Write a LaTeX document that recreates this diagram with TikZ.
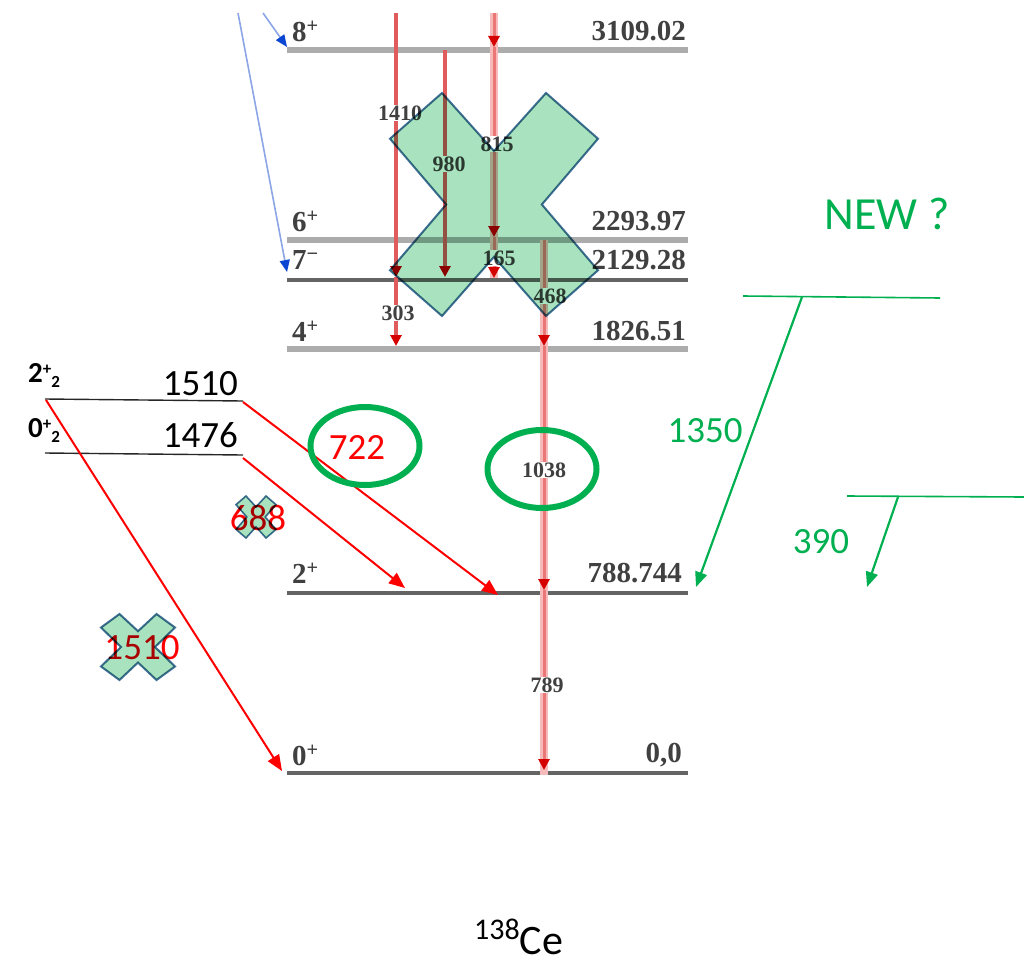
\documentclass[tikz,border=0pt]{standalone}
\usepackage{fontspec}
\setmainfont{Carlito}
\newfontfamily\serifff{Liberation Serif}
\usetikzlibrary{arrows.meta,shapes.geometric}
\definecolor{xgreen}{RGB}{0,176,80}
\definecolor{xfill}{RGB}{168,226,190}
\definecolor{xedge}{RGB}{65,113,156}
\definecolor{halocol}{RGB}{246,186,186}
\definecolor{corecol}{RGB}{234,118,118}
\definecolor{solidcol}{RGB}{224,92,92}
\definecolor{tipred}{RGB}{212,0,0}
\definecolor{lvllight}{RGB}{172,172,172}
\definecolor{lvldark}{RGB}{100,100,100}
\definecolor{bluel}{RGB}{140,165,230}
\definecolor{blued}{RGB}{10,70,210}
\begin{document}
\begin{tikzpicture}[x=1pt,y=-1pt,
  lightlvl/.style={line width=6pt, draw=lvllight},
  darklvl/.style={line width=4pt, draw=lvldark},
  lvlL/.style={anchor=west, inner sep=0pt, text=black!75, font=\serifff\bfseries\fontsize{29}{29}\selectfont},
  lvlR/.style={anchor=east, inner sep=0pt, text=black!75, font=\serifff\bfseries\fontsize{29}{29}\selectfont},
  glab/.style={fill=white, inner sep=1pt, text=black!75, font=\serifff\bfseries\fontsize{22}{22}\selectfont},
  gtip/.style={-{Triangle[length=11pt,width=11pt,color=tipred]}},
  solidg/.style={gtip, line width=3.5pt, draw=solidcol},
  haloline/.style={line width=8pt, draw=halocol},
  coreline/.style={gtip, line width=3pt, draw=corecol},
  crossst/.style={fill=xfill, draw=xedge, line width=2pt, line join=miter},
  bluearr/.style={line width=1.6pt, draw=bluel, -{Triangle[length=12pt,width=10pt,color=blued]}},
  redarr/.style={line width=2pt, draw=red, -{Triangle[length=16pt,width=13pt]}},
  greenarr/.style={line width=2.2pt, draw=xgreen, -{Triangle[length=15pt,width=12pt]}},
  greenlvl/.style={line width=1.6pt, draw=xgreen},
  blacklvl/.style={line width=1.4pt, draw=black!85},
  bigtxt/.style={inner sep=0pt, font=\fontsize{37}{37}\selectfont},
  boldlab/.style={inner sep=0pt, font=\bfseries\fontsize{29}{29}\selectfont},
  gcircle/.style={ellipse, draw=xgreen, line width=6pt, minimum width=109pt, minimum height=78pt, inner sep=0pt}
]
\useasboundingbox (0,0) rectangle (1024,966);
\newcommand{\smb}{\bfseries\fontsize{17}{17}\selectfont}

% level endpoints
\coordinate (L8a) at (287,50);  \coordinate (L8b) at (688,50);
\coordinate (L6a) at (287,240); \coordinate (L6b) at (688,240);
\coordinate (L7a) at (287,280); \coordinate (L7b) at (688,280);
\coordinate (L4a) at (287,349); \coordinate (L4b) at (688,349);
\coordinate (L2a) at (287,593); \coordinate (L2b) at (688,593);
\coordinate (L0a) at (287,773); \coordinate (L0b) at (688,773);

\draw[lightlvl] (L8a) -- (L8b);
\draw[lightlvl] (L6a) -- (L6b);
\draw[darklvl] (L7a) -- (L7b);
\draw[lightlvl] (L4a) -- (L4b);
\draw[darklvl] (L2a) -- (L2b);
\draw[darklvl] (L0a) -- (L0b);

% level labels
\node[lvlL] (l8) at (292,31) {8\textsuperscript{+}};
\node[lvlR] (e8) at (686,31) {3109.02};
\node[lvlL] (l6) at (292,221) {6\textsuperscript{+}};
\node[lvlR] (e6) at (686,221) {2293.97};
\node[lvlL] (l7) at (292,260) {7\textsuperscript{\char"2212}};
\node[lvlR] (e7) at (686,260) {2129.28};
\node[lvlL] (l4) at (292,331) {4\textsuperscript{+}};
\node[lvlR] (e4) at (686,331) {1826.51};
\node[lvlL] (l2) at (292,573) {2\textsuperscript{+}};
\node[lvlR] (e2) at (682,573) {788.744};
\node[lvlL] (l0) at (292,755) {0\textsuperscript{+}};
\node[lvlR] (e0) at (682,755) {0,0};

% gamma transitions
\coordinate (gA) at (396,13);  \coordinate (A7) at (396,277); \coordinate (A4) at (396,346);
\coordinate (gB) at (445,50);  \coordinate (B7) at (445,277);
\coordinate (gC) at (494,13);  \coordinate (C8) at (494,47);  \coordinate (C6) at (494,237); \coordinate (C7) at (494,278);
\coordinate (gD) at (544,240); \coordinate (D4) at (544,346); \coordinate (D2) at (544,590); \coordinate (D0) at (544,770);
\coordinate (Dend) at (544,775);

\draw[haloline] (gC) -- (C7);
\draw[haloline] (gD) -- (Dend);
\draw[solidg] (gA) -- (A7);
\draw[solidg] (A7) -- (A4);
\draw[solidg] (gB) -- (B7);
\draw[coreline] (gC) -- (C8);
\draw[coreline] (C8) -- (C6);
\draw[coreline] (C6) -- (C7);
\draw[coreline] (gD) -- (D4);
\draw[coreline] (D4) -- (D2);
\draw[coreline] (D2) -- (D0);

\node[glab] (g1410) at (400,113) {1410};
\node[glab] (g980) at (449,164) {980};
\node[glab] (g815) at (497,144) {815};
\node[glab] (g165) at (499,258) {165};
\node[glab] (g468) at (550,296) {468};
\node[glab] (g303) at (398,313) {303};
\node[glab] (g1038) at (544,470) {1038};
\node[glab] (g789) at (547,685) {789};

% blue feeding transitions
\coordinate (bl1) at (238,13); \coordinate (bl1e) at (287,272);
\coordinate (bl2) at (263,13); \coordinate (bl2e) at (287,47);
\draw[bluearr] (bl1) -- (bl1e);
\draw[bluearr] (bl2) -- (bl2e);

% big cross
\begin{scope}[blend mode=multiply]
\begin{scope}[shift={(494,204.5)}, xscale=104, yscale=111.5]
\path[crossst] (-0.5,-1) -- (0,-0.48) -- (0.5,-1) -- (1,-0.59) -- (0.46,0) -- (1,0.59) -- (0.5,1) -- (0,0.47) -- (-0.5,1) -- (-1,0.59) -- (-0.46,0) -- (-1,-0.59) -- cycle;
\end{scope}
\end{scope}

% left levels
\coordinate (p1a) at (45,399); \coordinate (p1b) at (243,401);
\coordinate (p0a) at (45,453); \coordinate (p0b) at (243,455);
\draw[blacklvl] (p1a) -- (p1b);
\draw[blacklvl] (p0a) -- (p0b);
\node[boldlab, anchor=base west] (j22) at (28,382) {2\raisebox{8pt}{\smb +}\raisebox{-5pt}{\smb 2}};
\node[boldlab, anchor=base west] (j02) at (28,437) {0\raisebox{8pt}{\smb +}\raisebox{-5pt}{\smb 2}};
\node[bigtxt, anchor=base east] (t1510) at (238,395) {1510};
\node[bigtxt, anchor=base east] (t1476) at (238,447) {1476};

% red arrows
\coordinate (r1s) at (243,402); \coordinate (r1e) at (498,595);
\coordinate (r2s) at (243,458); \coordinate (r2e) at (405,588);
\coordinate (r3s) at (46,400);  \coordinate (r3e) at (282,771);
\draw[redarr] (r1s) -- (r1e);
\draw[redarr] (r2s) -- (r2e);
\draw[redarr] (r3s) -- (r3e);

\node[bigtxt, text=red, anchor=base] (t722) at (357,459) {722};
\node[bigtxt, text=red, anchor=base] (t688) at (258,530) {688};
\node[bigtxt, text=red, anchor=base] (t1510r) at (142,659) {1510};

% small crosses
\begin{scope}[blend mode=multiply]
\begin{scope}[shift={(256,517)}, xscale=20, yscale=21]
\path[crossst, line width=1.6pt] (-0.5,-1) -- (0,-0.48) -- (0.5,-1) -- (1,-0.59) -- (0.46,0) -- (1,0.59) -- (0.5,1) -- (0,0.47) -- (-0.5,1) -- (-1,0.59) -- (-0.46,0) -- (-1,-0.59) -- cycle;
\end{scope}
\begin{scope}[shift={(138,647)}, xscale=37, yscale=33]
\path[crossst] (-0.5,-1) -- (0,-0.48) -- (0.5,-1) -- (1,-0.59) -- (0.46,0) -- (1,0.59) -- (0.5,1) -- (0,0.47) -- (-0.5,1) -- (-1,0.59) -- (-0.46,0) -- (-1,-0.59) -- cycle;
\end{scope}
\end{scope}

% green circles
\node[gcircle] (c722) at (365,446) {};
\node[gcircle] (c1038) at (542,469) {};

% new levels
\coordinate (n1a) at (743,296); \coordinate (n1b) at (940,298);
\coordinate (n1s) at (802,297); \coordinate (n1e) at (696,587);
\coordinate (n2a) at (847,496); \coordinate (n2b) at (1024,497);
\coordinate (n2s) at (898,497); \coordinate (n2e) at (867,587);
\draw[greenlvl] (n1a) -- (n1b);
\draw[greenlvl] (n2a) -- (n2b);
\draw[greenarr] (n1s) -- (n1e);
\draw[greenarr] (n2s) -- (n2e);
\node[bigtxt, text=xgreen, anchor=base] (t1350) at (705,442) {1350};
\node[bigtxt, text=xgreen, anchor=base] (t390) at (821,553) {390};
\node[inner sep=0pt, text=xgreen, anchor=base, font=\fontsize{46}{46}\selectfont] (tnew) at (887,229) {NEW ?};

% nucleus
\node[inner sep=0pt, anchor=base west] (ce) at (474,954) {\fontsize{30}{30}\selectfont\raisebox{15pt}{138}\fontsize{42}{42}\selectfont Ce};
\end{tikzpicture}
\end{document}
